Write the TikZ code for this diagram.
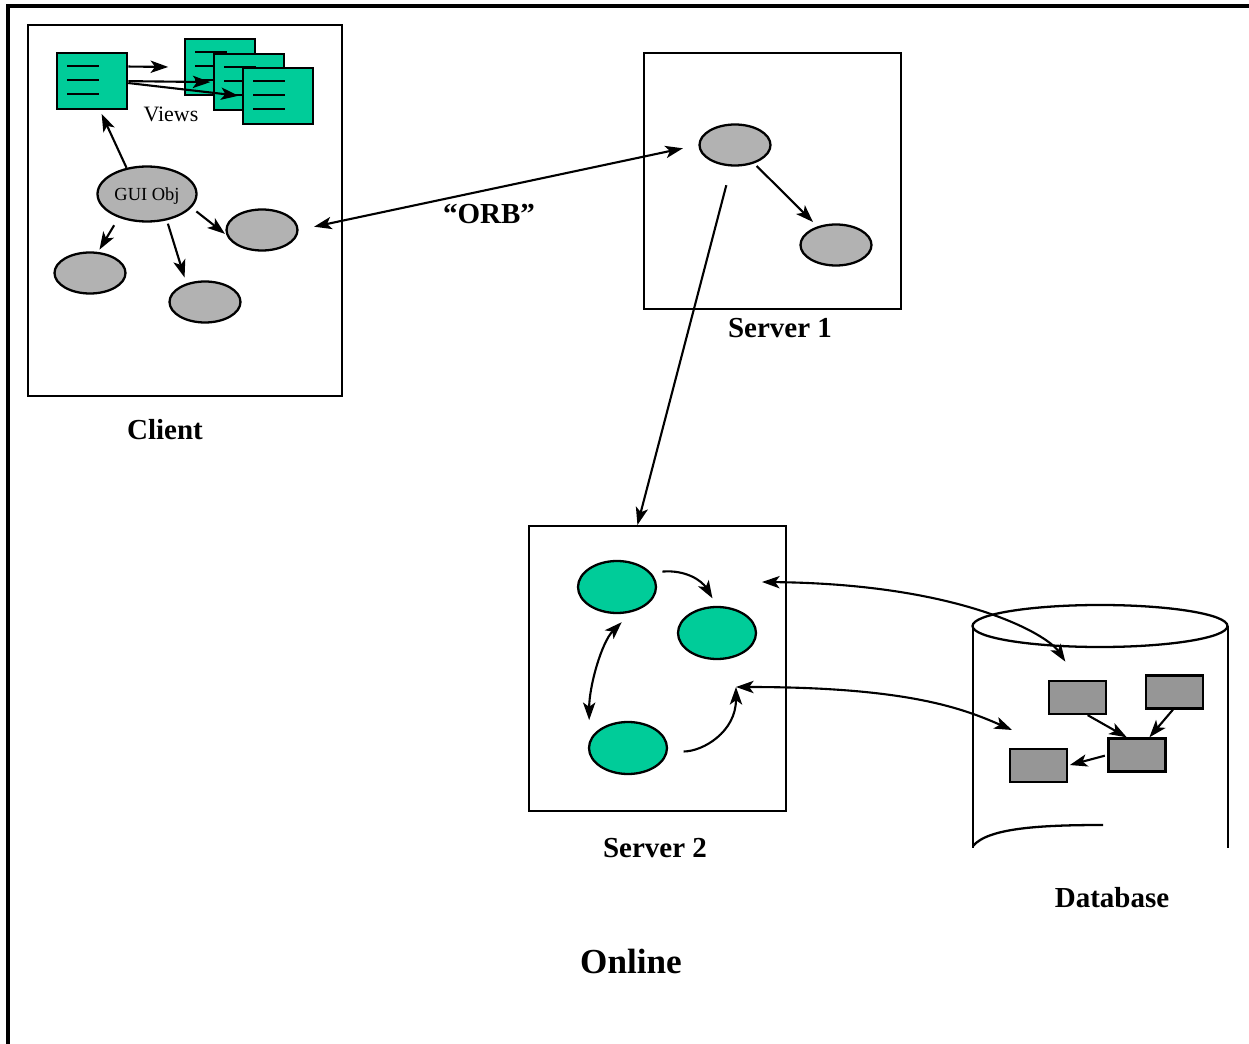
\documentclass[tikz,border=0pt]{standalone}
\usepackage{fontspec}
\setmainfont{Liberation Serif}
\usepackage{tikz}
\usetikzlibrary{arrows.meta}
\usetikzlibrary{calc}
\usetikzlibrary{shapes.geometric}
\definecolor{viewgreen}{RGB}{0,204,153}
\definecolor{objgray}{RGB}{178,178,178}
\definecolor{recgray}{RGB}{150,150,150}
\newcommand{\viewnode}[2]{\node(#1)[view] at (#2) {};
  \foreach \dy in {14,28,42} \draw[viewline] ($(#1.north west)+(11,\dy)$) -- ++(32,0);}
\newcommand{\boxlabel}[3]{\node(#1)[boxname] at (#2) {#3}}

\begin{document}
\begin{tikzpicture}[
        x=0.02cm, y=-0.02cm,
        >={Stealth[length=10pt,width=7pt,inset=2.5pt]},
        panel/.style={rectangle,draw=black,line width=1.3pt,anchor=north west,inner sep=0},
        view/.style={rectangle,draw=black,fill=viewgreen,line width=1.3pt,anchor=north west,
                     minimum width=1.4cm,minimum height=1.12cm,inner sep=0},
        viewline/.style={line width=1.4pt},
        obj/.style={ellipse,draw=black,fill=objgray,line width=1.3pt,
                    minimum width=1.42cm,minimum height=0.82cm,inner sep=0},
        active/.style={obj,fill=viewgreen,minimum width=1.56cm,minimum height=1.04cm},
        rec/.style={rectangle,draw=black,fill=recgray,line width=1.3pt,
                    minimum width=1.14cm,minimum height=0.66cm,inner sep=0},
        boxname/.style={font=\bfseries\fontsize{16.5}{20}\selectfont},
        dbline/.style={line width=1.3pt},
        link/.style={line width=1.2pt}
      ]
      \useasboundingbox (0,0) rectangle (1249,1044);
      \draw[line width=1.8pt] (8,1044) -- (8,6) -- (1249,6);

      % client
      \node(client)[panel,minimum width=6.28cm,minimum height=7.42cm] at (27,24) {};
      \boxlabel{clientname}{165,430}{Client};
      \viewnode{v0}{56,52}
      \viewnode{v1}{184,38}
      \viewnode{v2}{213,53}
      \viewnode{v3}{242,67}
      \node(views)[font=\fontsize{12.5}{14}\selectfont] at (171,114) {Views};
      \node(gui)[obj,minimum width=1.98cm,minimum height=1.1cm,text depth=0pt,
                 font=\fontsize{10.5}{12}\selectfont] at (147,194) {GUI Obj};
      \node(c1)[obj] at (262,230) {};
      \node(c2)[obj] at (90,273) {};
      \node(c3)[obj] at (205,302) {};
      \draw[link,->,shorten >=9pt] (v0.22) -- (v1.west);
      \draw[link,->,shorten >=1.5pt] (v0.east) -- (v2.west);
      \draw[link,->,shorten >=2pt] (v0.-3) -- (v3.west);
      \draw[link,->,shorten >=2.3pt] (gui.128) -- (v0.-75);
      \draw[link,->,shorten <=3.5pt,shorten >=1pt] (gui.-17) -- (c1.188);
      \draw[link,->,shorten <=5pt,shorten >=1.5pt] (gui.-140) -- (c2.69);
      \draw[link,->,shorten <=2pt,shorten >=3.5pt] (gui.-53) -- (c3.135);

      % server 1
      \node(srv1)[panel,minimum width=5.14cm,minimum height=5.12cm] at (643,52) {};
      \boxlabel{srv1name}{780,328}{Server 1};
      \node(s1a)[obj] at (735,145) {};
      \node(s1b)[obj] at (836,245) {};
      \draw[link,->,shorten <=2pt,shorten >=3.5pt] (s1a.-44) -- (s1b.135);
      \draw[link,<->,shorten <=9pt,shorten >=9pt] (c1.east) -- (s1a.west);
      \node(orb)[boxname] at (489,214) {“ORB”};

      % server 2
      \node(srv2)[panel,minimum width=5.14cm,minimum height=5.7cm] at (528,525) {};
      \boxlabel{srv2name}{655,848}{Server 2};
      \draw[link,->,shorten <=11pt] (s1a.-100) -- (srv2.98);
      \node(g1)[active] at (617,587) {};
      \node(g2)[active] at (717,633) {};
      \node(g3)[active] at (628,748) {};
      \coordinate (s2top) at (762,582);
      \coordinate (s2mid) at (736,687);
      \draw[link,->,shorten <=6.5pt,shorten >=5pt] (g1.23) .. controls +(35,-3) and +(-15,-25) .. (g2.north);
      \draw[link,<->,shorten <=8pt,shorten >=12pt] (g1.-60) .. controls +(-30,30) and +(0,-55) .. (g3.170);
      \draw[link,->,shorten <=9pt] (g3.-5) .. controls +(35,0) and +(0,45) .. (s2mid);

      % database
      \draw[dbline] (1100,626) ellipse [x radius=127.5, y radius=21];
      \draw[dbline] (973,626) -- (973,848);
      \draw[dbline] (1228,626) -- (1228,848);
      \draw[dbline] (973,846) .. controls (988,828) and (1040,825) .. (1103,825);
      \boxlabel{dbname}{1112,898}{Database};
      \node(dbA)[rec] at (1077.5,697.5) {};
      \node(dbB)[rec] at (1174.5,692) {};
      \node(dbC)[rec] at (1137,755) {};
      \node(dbD)[rec] at (1038.5,765.5) {};
      \coordinate (dbtip) at (1012,730);
      \draw[link,->] (dbA.-60) -- (dbC.120);
      \draw[link,->] (dbB.-95) -- (dbC.55);
      \draw[link,->,shorten <=1.5pt,shorten >=1pt] (dbC.west) -- (dbD.east);
      \draw[link,<->,shorten >=12.5pt] (s2top) .. controls +(200,2) and +(-30,-45) .. (dbA.north);
      \draw[link,<->] (s2mid) .. controls +(170,0) and +(-50,-22) .. (dbtip);

      \node(online)[boxname,font=\bfseries\fontsize{20}{24}\selectfont] at (631,961) {Online};
    \end{tikzpicture}
\end{document}
